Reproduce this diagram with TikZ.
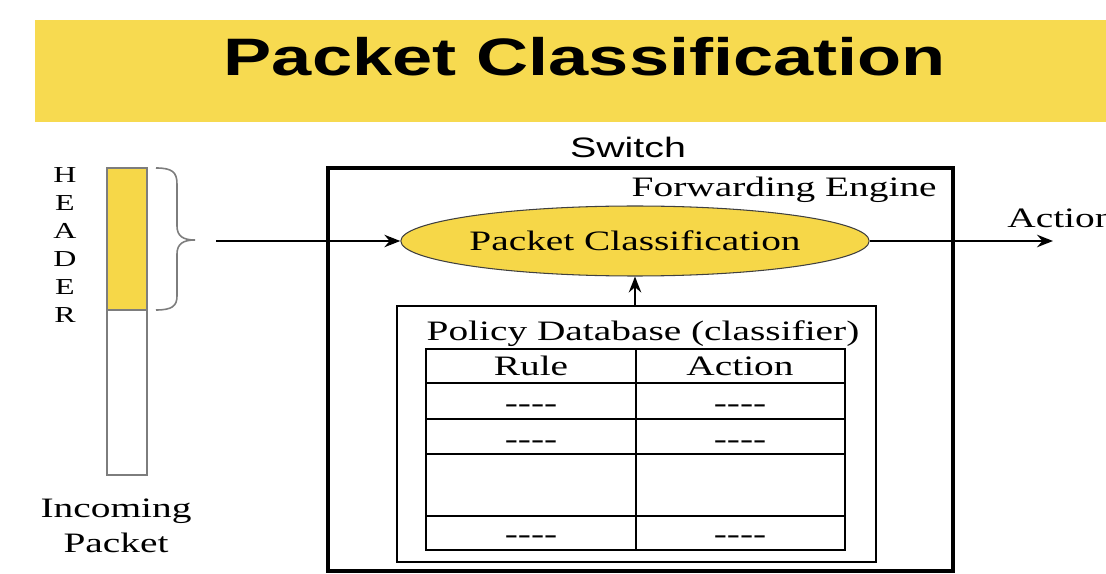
\documentclass[tikz,border=0pt]{standalone}
\usepackage{fontspec}
\setmainfont{Liberation Serif}[FakeStretch=1.4]
\newfontfamily\titlefont{Liberation Sans}[FakeStretch=1.37]
\newfontfamily\labelfont{Liberation Sans}[FakeStretch=1.4]
\usepackage{xcolor}
\usepackage{tikz}
\usetikzlibrary{arrows.meta,positioning,shapes.geometric,fit}
\definecolor{bandyellow}{RGB}{247,218,80}
\definecolor{cellyellow}{RGB}{246,215,72}
\definecolor{packetgray}{RGB}{125,125,125}
\newcommand{\ruledash}{\mbox{-}\mbox{-}\mbox{-}\mbox{-}}

\begin{document}
\begin{tikzpicture}[x=0.02cm,y=-0.02cm,
  every node/.style={font=\fontsize{16}{19}\selectfont, inner sep=0pt},
  flow/.style={-{Stealth[length=9pt,width=7pt]}, line width=1.5pt},
  cell/.style={anchor=base}]
  \useasboundingbox (0,0) rectangle (1106,574);
  % Title band
  \fill[bandyellow] (35,20) rectangle (1106,122);
  \node[anchor=base, font=\titlefont\bfseries\fontsize{30}{32}\selectfont] (title) at (585,76) {Packet Classification};
  % Incoming packet
  \draw[packetgray, line width=1pt, fill=cellyellow] (107,168) rectangle (147,310);
  \draw[packetgray, line width=1pt] (107,310) rectangle (147,475);
  \draw[packetgray, line width=0.9pt] (156,168) .. controls (172,168) and (177,172) .. (177,184) -- (177,226)
    .. controls (177,236) and (183,240) .. (195,240) .. controls (183,240) and (177,244) .. (177,254)
    -- (177,296) .. controls (177,306) and (172,310) .. (156,310);
  \node[anchor=north, align=center, font=\fontsize{13}{16}\selectfont] (header) at (65,167) {H\\E\\A\\D\\E\\R};
  \node[anchor=north, align=center, font=\fontsize{16}{19.8}\selectfont] (incoming) at (116,499) {Incoming\\Packet};
  % Switch
  \node[anchor=base, font=\labelfont\fontsize{16}{19}\selectfont] (switchlabel) at (628,158) {Switch};
  \node[draw, line width=2.4pt, fit={(328,168) (953,571)}] (switch) {};
  \node[anchor=base east] (engine) at (937,197) {Forwarding Engine};
  \node[ellipse, draw=black!75, fill=cellyellow, line width=0.6pt, minimum width=9.2cm, minimum height=1.4cm] (cls) at (635,241) {Packet Classification};
  % Policy database
  \node[draw, line width=1.2pt, fit={(397,306) (876,562)}] (policy) {};
  \node[anchor=base] (policytitle) at (643,340) {Policy Database (classifier)};
  \draw[line width=1.6pt] (426,349) rectangle (845,550);
  \foreach \y in {383,419,454,516}
    \draw[line width=1.6pt] (426,\y) -- (845,\y);
  \draw[line width=1.6pt] (636,349) -- (636,550);
  \node[cell] (rule) at (531,376) {Rule};
  \node[cell] (act) at (740,376) {Action};
  \node[cell] (r1) at (531,412) {\ruledash};
  \node[cell] (a1) at (740,412) {\ruledash};
  \node[cell] (r2) at (531,448) {\ruledash};
  \node[cell] (a2) at (740,448) {\ruledash};
  \node[cell] (r3) at (531,543) {\ruledash};
  \node[cell] (a3) at (740,543) {\ruledash};
  % Flow
  \coordinate (in) at (216,241);
  \coordinate (out) at (1053,241);
  \draw[flow] (in) -- (cls.west);
  \draw[flow] (cls.east) -- (out);
  \draw[flow] (policy.north -| cls.south) -- (cls.south);
  \node[anchor=base west] (actionout) at (1007,228) {Action};
\end{tikzpicture}
\end{document}
